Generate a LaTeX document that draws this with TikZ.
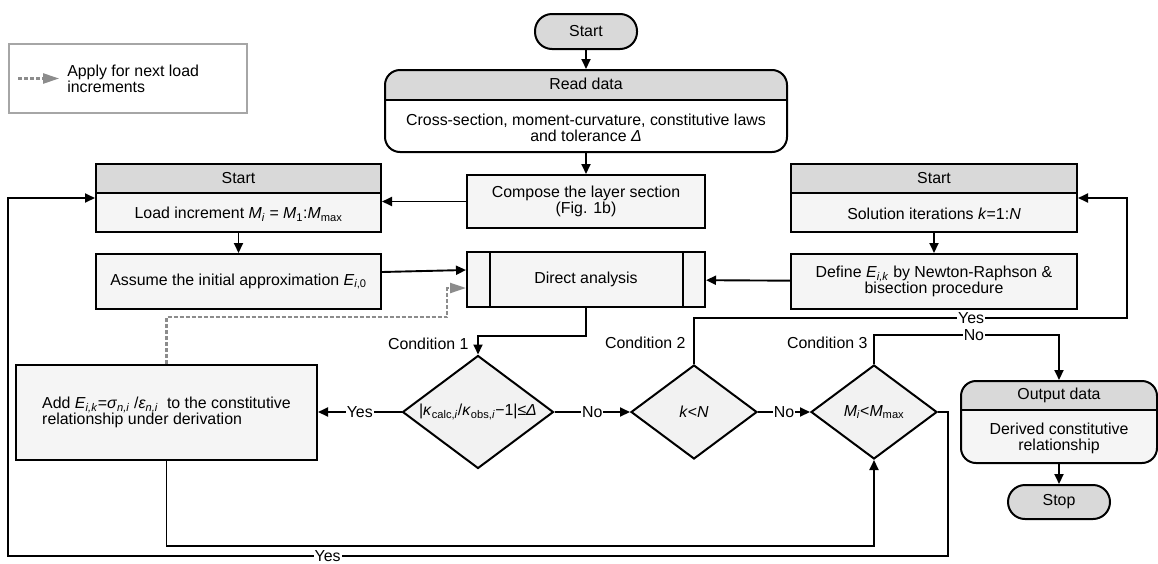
\documentclass[tikz,border=0pt]{standalone}
\usepackage{fontspec}
\setmainfont{Liberation Sans}
\usepackage{tikz}
\usetikzlibrary{arrows.meta,positioning,shapes.geometric,calc}
\definecolor{hdrgray}{HTML}{D9D9D9}
\definecolor{boxfill}{HTML}{F5F5F5}
\definecolor{dmdfill}{HTML}{F2F2F2}
\definecolor{muted}{HTML}{8C8C8C}
\definecolor{legline}{HTML}{A6A6A6}
\newcommand{\vi}[1]{\textit{#1}}
\newcommand{\subs}[1]{\textsubscript{#1}}
\tikzset{
  proc/.style={draw,line width=2pt,fill=boxfill,inner sep=3pt,align=center},
  term/.style={proc,fill=hdrgray,rounded corners=17pt},
  hdr/.style={path picture={\fill[hdrgray,sharp corners] (path picture bounding box.north west)
      rectangle ([yshift=-#1]path picture bounding box.north east);}},
  dmd/.style={diamond,draw,line width=2pt,fill=dmdfill,inner sep=0pt},
  arr/.style={line width=1.9pt,-{Triangle[length=10pt,width=9pt]}},
  dasharr/.style={muted,line width=2.3pt,dash pattern=on 4pt off 2pt,
      -{Triangle[length=16pt,width=10pt]}},
  lbl/.style={fill=white,inner sep=1pt}
}

\begin{document}
\begin{tikzpicture}[x=1pt,y=-1pt,font=\fontsize{15.9}{16}\selectfont]
  \useasboundingbox (0,0) rectangle (1158,563);
  % legend
  \node[draw=legline,line width=1.8pt,minimum width=238,minimum height=69] (legend) at (128,78.5) {};
  \draw[dasharr] ([xshift=10pt]legend.west) -- ++(41,0) coordinate (legtip);
  \node[anchor=west,align=left,inner sep=0pt] (legtxt) at ([xshift=8pt]legtip) {Apply for next load\\increments};

  % middle column
  \node[term,minimum width=102,minimum height=35] (start) at (586,31.5) {Start};
  \node[proc,fill=white,rounded corners=15pt,hdr=31pt,minimum width=402,minimum height=82,
        below=19pt of start] (read) {};
  \node[align=center] at ([yshift=25.5pt]read.south)
       {Cross-section, moment-curvature, constitutive laws\\and tolerance \vi{Δ}};
  \node[proc,minimum width=238,minimum height=53,below=21pt of read] (compose)
       {Compose the layer section\\(Fig. 1b)};
  \node[proc,minimum width=238,minimum height=55] (direct) at (586,279.5) {Direct analysis};
  \draw[line width=2pt] ([xshift=24pt]direct.north west) -- ([xshift=24pt]direct.south west);
  \draw[line width=2pt] ([xshift=-23pt]direct.north east) -- ([xshift=-23pt]direct.south east);

  % left column
  \node[proc,hdr=30pt,minimum width=285,minimum height=68] (load) at (238.5,198) {};
  \node at ([yshift=19pt]load.south) {Load increment \vi{M}\subs{\vi{i}} = \vi{M}\subs{1}:\vi{M}\subs{max}};
  \node[proc,minimum width=285,minimum height=55,below=20pt of load] (assume)
       {Assume the initial approximation \vi{E}\subs{\vi{i},0}};
  \node[proc,align=left,minimum width=301,minimum height=95] (add) at (166.5,412.5)
       {Add \vi{E}\subs{\vi{i,k}}=\vi{σ}\subs{\vi{n,i}} /\vi{ε}\subs{\vi{n,i}}\ \ to the constitutive\\relationship under derivation};

  % right column
  \node[proc,hdr=30pt,minimum width=286,minimum height=68] (solve) at (934,198) {};
  \node at ([yshift=19pt]solve.south) {Solution iterations \vi{k}=1:\vi{N}};
  \node[proc,minimum width=286,minimum height=55,below=20pt of solve] (define)
       {Define \vi{E}\subs{\vi{i,k}} by Newton-Raphson \&\\bisection procedure};
  \node[proc,rounded corners=15pt,hdr=30pt,minimum width=196,minimum height=82] (out) at (1059,422) {};
  \node[align=center] at ([yshift=26pt]out.south) {Derived constitutive\\relationship};
  \node[term,minimum width=102,minimum height=34,below=20pt of out] (stop) {Stop};

  % headers
  \foreach \b/\h in {load/30,solve/30,out/30,read/31}
    \draw[line width=2pt] ([yshift=-\h pt]\b.north west) -- ([yshift=-\h pt]\b.north east);
  \foreach \b/\t in {load/Start,solve/Start,out/Output data,read/Read data}
    \node at ([yshift=-15pt]\b.north) {\t};

  % conditions
  \node[dmd,minimum width=151,minimum height=113,
        label=center:{|\vi{κ}\subs{calc,\vi{i}}/\vi{κ}\subs{obs,\vi{i}}−1|≤\vi{Δ}}] (cond1) at (478,412) {};
  \node[dmd,minimum width=126,minimum height=94,label=center:{\vi{k}<\vi{N}}] (cond2) at (694,412) {};
  \node[dmd,minimum width=126,minimum height=94,
        label=center:{\vi{M}\subs{\vi{i}}<\vi{M}\subs{max}}] (cond3) at (874,412) {};
  \node[anchor=east] at ([xshift=-6pt,yshift=11pt]cond1.north) {Condition 1};
  \node[anchor=east] at ([xshift=-5pt,yshift=21pt]cond2.north) {Condition 2};
  \node[anchor=east] at ([xshift=-3pt,yshift=21pt]cond3.north) {Condition 3};

  % connectors
  \draw[arr] (start) -- (read);
  \draw[arr] (read) -- (compose);
  \draw[arr] (compose.west) -- (compose.west -| load.east);
  \draw[arr] (load) -- (assume);
  \draw[arr] (solve) -- (define);
  \draw[arr] (out) -- (stop);
  \draw[arr] ([yshift=9.5pt]assume.east) -- ([yshift=9.5pt]direct.west);
  \draw[arr] (define) -- (direct);
  \draw[dasharr] (add.north) -- ++(0,-47) -| ([xshift=-19pt,yshift=-8.5pt]direct.west)
        -- ([yshift=-8.5pt]direct.west);
  \draw[arr] (direct.south) -- ++(0,28) -| (cond1.north);
  \draw[arr] (cond1.west) -- node[lbl]{Yes} (cond1.west -| add.east);
  \draw[arr] (cond1.east) -- node[lbl]{No} (cond2.west);
  \draw[arr] (cond2.east) -- node[lbl]{No} (cond3.west);
  \draw[arr] (cond2.north) -- ++(0,-46) -| node[lbl,pos=0.32]{Yes} ([xshift=49pt]solve.east)
        -- (solve.east);
  \draw[arr] (cond3.north) -- ++(0,-29) -| node[lbl,pos=0.27]{No} (out.north);
  \draw[arr] (add.south) -- ++(0,85) -| (cond3.south);
  \draw[arr] (cond3.east) -- ++(10,0) -- ++(0,144) -| node[lbl,pos=0.33]{Yes}
        ([xshift=-87pt]load.west) -- (load.west);
\end{tikzpicture}
\end{document}
